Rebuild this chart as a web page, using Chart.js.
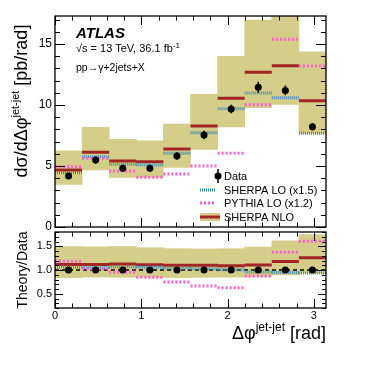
<!DOCTYPE html>
<html>
<head>
<meta charset="utf-8">
<script src="https://cdn.jsdelivr.net/npm/chart.js@4/dist/chart.umd.min.js"></script>
<style>
  html, body { margin: 0; padding: 0; background: #fff; }
  #wrap { position: relative; width: 382px; height: 382px; font-family: "Liberation Sans", Arial, sans-serif; color: #000; }
  canvas { position: absolute; left: 0; top: 0; }
  .lbl { position: absolute; white-space: nowrap; line-height: 1; }
  .sup { position: relative; font-size: 0.65em; top: -0.75em; }
</style>
</head>
<body>
<div id="wrap">
  <canvas id="main" width="382" height="382"></canvas>
  <canvas id="ratio" width="382" height="382"></canvas>

  <div class="lbl" style="left:76px;top:25px;font-size:15px;font-weight:bold;font-style:italic;">ATLAS</div>
  <div class="lbl" style="left:76px;top:43px;font-size:11px;">&radic;s = 13 TeV, 36.1 fb<span class="sup" style="font-size:8px;top:-4px;">-1</span></div>
  <div class="lbl" style="left:76px;top:62px;font-size:10.5px;">pp&rarr;&gamma;+2jets+X</div>

  <div class="lbl" style="left:21px;top:101px;font-size:18px;transform:translate(-50%,-50%) rotate(-90deg);">d&sigma;/d&Delta;&phi;<span class="sup" style="font-size:11px;top:-8px;">jet-jet</span> [pb/rad]</div>
  <div class="lbl" style="left:22px;top:270px;font-size:14px;transform:translate(-50%,-50%) rotate(-90deg);">Theory/Data</div>
  <div class="lbl" style="right:56px;top:324px;font-size:18px;">&Delta;&phi;<span class="sup" style="font-size:12px;top:-8px;">jet-jet</span> [rad]</div>
</div>

<script>
// 10 bins of width pi/10 in delta phi(jet-jet)
const binEdges = [0, 1, 2, 3, 4, 5, 6, 7, 8, 9, 10].map(i => i * Math.PI / 10);

// values [pb/rad]
const dataVals   = [4.18, 5.49, 4.81, 4.81, 5.82, 7.54, 9.67, 11.45, 11.20, 8.22];
const dataErr    = [0.25, 0.30, 0.30, 0.30, 0.30, 0.35, 0.35, 0.45, 0.40, 0.30];
const sherpaNLO  = [4.67, 6.12, 5.41, 5.35, 6.39, 8.28, 10.55, 12.68, 13.22, 10.35];
const nloUp      = [6.25, 8.17, 7.19, 7.07, 8.44, 10.88, 14.00, 16.97, 18.10, 14.37];
const nloDown    = [3.50, 4.67, 4.07, 4.07, 4.89, 6.37, 8.20, 9.78, 10.06, 7.68];
const sherpaLO   = [4.45, 5.76, 5.14, 5.08, 6.04, 7.73, 9.70, 10.98, 10.60, 7.68];
const pythiaLO   = [4.95, 5.63, 4.59, 4.07, 4.34, 5.00, 6.04, 10.03, 15.40, 13.20];

const xTicks = [0, 1, 2, 3];
const yTicksMain = [0, 5, 10, 15];
const yTicksRatio = [0.5, 1, 1.5];

const BAND = 'rgb(212,206,138)';
const NLO_RED = '#a32626';
const LO_BLUE = '#3f8db8';
const PY_PINK = '#ff5fd0';
const FONT = '"Liberation Sans", Arial, sans-serif';

// horizontal segment per bin
function segs(vals) {
  const out = [];
  vals.forEach((v, i) => {
    out.push({x: binEdges[i], y: v}, {x: binEdges[i + 1], y: v}, {x: binEdges[i + 1], y: null});
  });
  return out;
}
function centers(vals) {
  return vals.map((v, i) => ({x: (binEdges[i] + binEdges[i + 1]) / 2, y: v}));
}
function boxes(lo, hi) {
  return lo.map((v, i) => ({x: (binEdges[i] + binEdges[i + 1]) / 2, y: [v, hi[i]]}));
}
const toRatio = arr => arr.map((v, i) => v / dataVals[i]);

// error bars on data points
const errorBars = {
  id: 'errorBars',
  afterDatasetsDraw(chart) {
    const {ctx, scales: {x, y}} = chart;
    chart.data.datasets.forEach(ds => {
      if (!ds.yErr) return;
      ctx.save();
      ctx.strokeStyle = '#000';
      ctx.lineWidth = 1.5;
      ds.data.forEach((p, i) => {
        const px = x.getPixelForValue(p.x);
        ctx.beginPath();
        ctx.moveTo(px, y.getPixelForValue(p.y - ds.yErr[i]));
        ctx.lineTo(px, y.getPixelForValue(p.y + ds.yErr[i]));
        ctx.stroke();
      });
      ctx.restore();
    });
  }
};

// ROOT style frame with ticks on all four sides
const frame = {
  id: 'frame',
  afterDraw(chart, args, opts) {
    const {ctx, chartArea: a, scales: {x, y}} = chart;
    ctx.save();
    ctx.strokeStyle = '#000';
    ctx.lineWidth = 1;
    ctx.beginPath();
    for (let k = 0; ; k++) {
      const v = x.min + k * opts.xMinor;
      if (v > x.max + 1e-9) break;
      const px = Math.round(x.getPixelForValue(v)) + 0.5;
      const len = opts.xMajor.some(m => Math.abs(m - v) < 1e-6) ? opts.xLen : opts.xLen / 2;
      ctx.moveTo(px, a.bottom); ctx.lineTo(px, a.bottom - len);
      ctx.moveTo(px, a.top); ctx.lineTo(px, a.top + len);
    }
    for (let k = 0; ; k++) {
      const v = opts.yStart + k * opts.yMinor;
      if (v > y.max + 1e-9) break;
      const py = Math.round(y.getPixelForValue(v)) + 0.5;
      const len = opts.yMajor.some(m => Math.abs(m - v) < 1e-6) ? opts.yLen : opts.yLen / 2;
      ctx.moveTo(a.left, py); ctx.lineTo(a.left + len, py);
      ctx.moveTo(a.right, py); ctx.lineTo(a.right - len, py);
    }
    ctx.stroke();
    ctx.lineWidth = 1.3;
    ctx.strokeRect(a.left, a.top, a.right - a.left, a.bottom - a.top);
    ctx.restore();
  }
};

// legend inside the main panel
const legendBox = {
  id: 'legendBox',
  afterDraw(chart) {
    const ctx = chart.ctx;
    const x0 = 200, x1 = 218, tx = 224;
    const rows = [176, 190, 203, 217];
    ctx.save();
    // Data
    ctx.strokeStyle = '#000'; ctx.lineWidth = 1.5;
    ctx.beginPath(); ctx.moveTo(x1, rows[0] - 7); ctx.lineTo(x1, rows[0] + 7); ctx.stroke();
    ctx.fillStyle = '#000';
    ctx.beginPath(); ctx.arc(x1, rows[0], 3.5, 0, 2 * Math.PI); ctx.fill();
    // SHERPA LO
    ctx.lineWidth = 3; ctx.strokeStyle = LO_BLUE; ctx.setLineDash([1, 1]);
    ctx.beginPath(); ctx.moveTo(x0, rows[1]); ctx.lineTo(x1 - 2, rows[1]); ctx.stroke();
    // PYTHIA LO
    ctx.strokeStyle = PY_PINK; ctx.setLineDash([2, 2]);
    ctx.beginPath(); ctx.moveTo(x0, rows[2]); ctx.lineTo(x1 - 2, rows[2]); ctx.stroke();
    // SHERPA NLO
    ctx.setLineDash([]);
    ctx.fillStyle = BAND; ctx.fillRect(x0, rows[3] - 4, x1 - x0 + 2, 8);
    ctx.strokeStyle = NLO_RED;
    ctx.beginPath(); ctx.moveTo(x0, rows[3]); ctx.lineTo(x1 + 2, rows[3]); ctx.stroke();
    // labels
    ctx.fillStyle = '#000';
    ctx.font = '11px ' + FONT;
    ctx.textBaseline = 'middle';
    ['Data', 'SHERPA LO (x1.5)', 'PYTHIA LO (x1.2)', 'SHERPA NLO'].forEach((t, i) => ctx.fillText(t, tx, rows[i] + 1));
    ctx.restore();
  }
};

function makeDatasets(scale) {
  const f = scale ? toRatio : (a => a);
  return [
    {type: 'bar', data: boxes(f(nloDown), f(nloUp)), backgroundColor: BAND, borderWidth: 0,
     barPercentage: 1, categoryPercentage: 1, order: 6},
    {data: segs(f(sherpaNLO)), borderColor: NLO_RED, borderWidth: 3, pointRadius: 0, order: 3},
    {data: segs(f(sherpaLO)), borderColor: LO_BLUE, borderWidth: 3, borderDash: [1, 1], pointRadius: 0, order: 2},
    {data: segs(f(pythiaLO)), borderColor: PY_PINK, borderWidth: 3, borderDash: [2, 2], pointRadius: 0, order: 1},
    {data: centers(f(dataVals)), yErr: scale ? dataErr.map((e, i) => e / dataVals[i]) : dataErr,
     showLine: false, pointRadius: 3.5, pointBackgroundColor: '#000', pointBorderWidth: 0, order: 0}
  ];
}

function setTicks(list) {
  return scale => { scale.ticks = list.map(v => ({value: v})); };
}

// main panel
new Chart(document.getElementById('main'), {
  type: 'line',
  data: {datasets: makeDatasets(false)},
  options: {
    responsive: false,
    animation: false,
    spanGaps: false,
    layout: {padding: {top: 16, right: 56, bottom: 155, left: 0}},
    plugins: {
      legend: {display: false},
      tooltip: {enabled: false},
      frame: {xMajor: xTicks, xMinor: 0.2, xLen: 9, yMajor: yTicksMain, yMinor: 1, yStart: 0, yLen: 10}
    },
    scales: {
      x: {type: 'linear', min: 0, max: Math.PI, offset: false, display: false, afterBuildTicks: setTicks(xTicks)},
      y: {
        min: 0, max: 17.3,
        afterBuildTicks: setTicks(yTicksMain),
        afterFit: s => { s.width = 55; },
        grid: {display: false, drawTicks: false},
        border: {display: false},
        ticks: {color: '#000', padding: 3, font: {size: 12, family: FONT}}
      }
    }
  },
  plugins: [errorBars, frame, legendBox]
});

// ratio panel
const ratioSets = makeDatasets(true);
ratioSets.splice(1, 0, {data: [{x: 0, y: 1}, {x: Math.PI, y: 1}], borderColor: '#000', borderWidth: 1.5,
  borderDash: [4, 3], pointRadius: 0, order: 4});

new Chart(document.getElementById('ratio'), {
  type: 'line',
  data: {datasets: ratioSets},
  options: {
    responsive: false,
    animation: false,
    spanGaps: false,
    layout: {padding: {top: 232, right: 56, bottom: 54, left: 0}},
    plugins: {
      legend: {display: false},
      tooltip: {enabled: false},
      frame: {xMajor: xTicks, xMinor: 0.2, xLen: 9, yMajor: yTicksRatio, yMinor: 0.1, yStart: 0.2, yLen: 8}
    },
    scales: {
      x: {
        type: 'linear', min: 0, max: Math.PI, offset: false,
        afterBuildTicks: setTicks(xTicks),
        afterFit: s => { s.height = 20; },
        grid: {display: false, drawTicks: false},
        border: {display: false},
        ticks: {color: '#000', padding: 1, maxRotation: 0, font: {size: 11, family: FONT}}
      },
      y: {
        min: 0.2, max: 1.8,
        afterBuildTicks: setTicks(yTicksRatio),
        afterFit: s => { s.width = 55; },
        grid: {display: false, drawTicks: false},
        border: {display: false},
        ticks: {color: '#000', padding: 3, font: {size: 11, family: FONT}}
      }
    }
  },
  plugins: [errorBars, frame]
});
</script>
</body>
</html>
